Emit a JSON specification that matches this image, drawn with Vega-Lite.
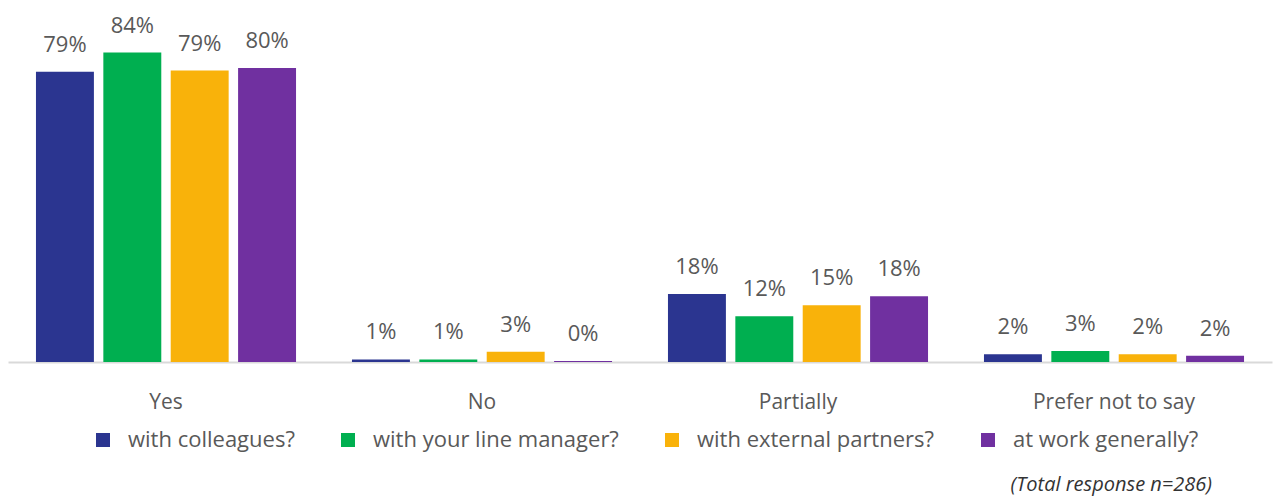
{
  "$schema": "https://vega.github.io/schema/vega-lite/v6.json",
  "width": 1264,
  "height": 332,
  "autosize": {"type": "none"},
  "padding": {"left": 8, "top": 30, "right": 3, "bottom": 138},
  "background": "white",
  "config": {"view": {"stroke": null}, "font": "Open Sans"},
  "title": {
    "text": "(Total response n=286)",
    "orient": "bottom",
    "anchor": "end",
    "frame": "group",
    "fontStyle": "italic",
    "fontWeight": "normal",
    "fontSize": 20,
    "font": "Open Sans",
    "color": "#333333",
    "dx": -60,
    "offset": 24
  },
  "data": {
    "values": [
      {"Response": "Yes", "Question": "with colleagues?", "Share": 0.787},
      {"Response": "No", "Question": "with colleagues?", "Share": 0.007},
      {"Response": "Partially", "Question": "with colleagues?", "Share": 0.184},
      {"Response": "Prefer not to say", "Question": "with colleagues?", "Share": 0.021},
      {"Response": "Yes", "Question": "with your line manager?", "Share": 0.839},
      {"Response": "No", "Question": "with your line manager?", "Share": 0.007},
      {"Response": "Partially", "Question": "with your line manager?", "Share": 0.124},
      {"Response": "Prefer not to say", "Question": "with your line manager?", "Share": 0.030},
      {"Response": "Yes", "Question": "with external partners?", "Share": 0.790},
      {"Response": "No", "Question": "with external partners?", "Share": 0.028},
      {"Response": "Partially", "Question": "with external partners?", "Share": 0.154},
      {"Response": "Prefer not to say", "Question": "with external partners?", "Share": 0.021},
      {"Response": "Yes", "Question": "at work generally?", "Share": 0.797},
      {"Response": "No", "Question": "at work generally?", "Share": 0.003},
      {"Response": "Partially", "Question": "at work generally?", "Share": 0.178},
      {"Response": "Prefer not to say", "Question": "at work generally?", "Share": 0.017}
    ]
  },
  "encoding": {
    "x": {
      "field": "Response",
      "type": "nominal",
      "sort": ["Yes", "No", "Partially", "Prefer not to say"],
      "scale": {"paddingInner": 0.177, "paddingOuter": 0.0885},
      "axis": {
        "title": null,
        "labelAngle": 0,
        "ticks": false,
        "tickSize": 0,
        "grid": false,
        "domainColor": "#D9D9D9",
        "domainWidth": 2,
        "labelFontSize": 21,
        "labelFont": "Open Sans",
        "labelColor": "#595959",
        "labelPadding": 29
      }
    },
    "xOffset": {
      "field": "Question",
      "type": "nominal",
      "sort": ["with colleagues?", "with your line manager?", "with external partners?", "at work generally?"],
      "scale": {"paddingInner": 0.14, "paddingOuter": 0}
    },
    "y": {
      "field": "Share",
      "type": "quantitative",
      "scale": {"domain": [0, 0.9]},
      "axis": null
    }
  },
  "layer": [
    {
      "mark": {"type": "bar"},
      "encoding": {
        "color": {
          "field": "Question",
          "type": "nominal",
          "sort": ["with colleagues?", "with your line manager?", "with external partners?", "at work generally?"],
          "scale": {
            "domain": ["with colleagues?", "with your line manager?", "with external partners?", "at work generally?"],
            "range": ["#2B3590", "#00AF50", "#F9B20A", "#7030A0"]
          },
          "legend": {
            "title": null,
            "orient": "none",
            "legendX": 84,
            "legendY": 399,
            "direction": "horizontal",
            "symbolType": "square",
            "symbolSize": 196,
            "symbolStrokeWidth": 0,
            "labelFontSize": 22,
            "labelFont": "Open Sans",
            "labelColor": "#595959",
            "labelLimit": 0,
            "columnPadding": 42,
            "labelOffset": 14,
            "padding": 0
          }
        }
      }
    },
    {
      "mark": {"type": "text", "dy": -27, "baseline": "middle", "fontSize": 22, "font": "Open Sans", "color": "#595959"},
      "encoding": {
        "text": {"field": "Share", "type": "quantitative", "format": ".0%"}
      }
    }
  ]
}
